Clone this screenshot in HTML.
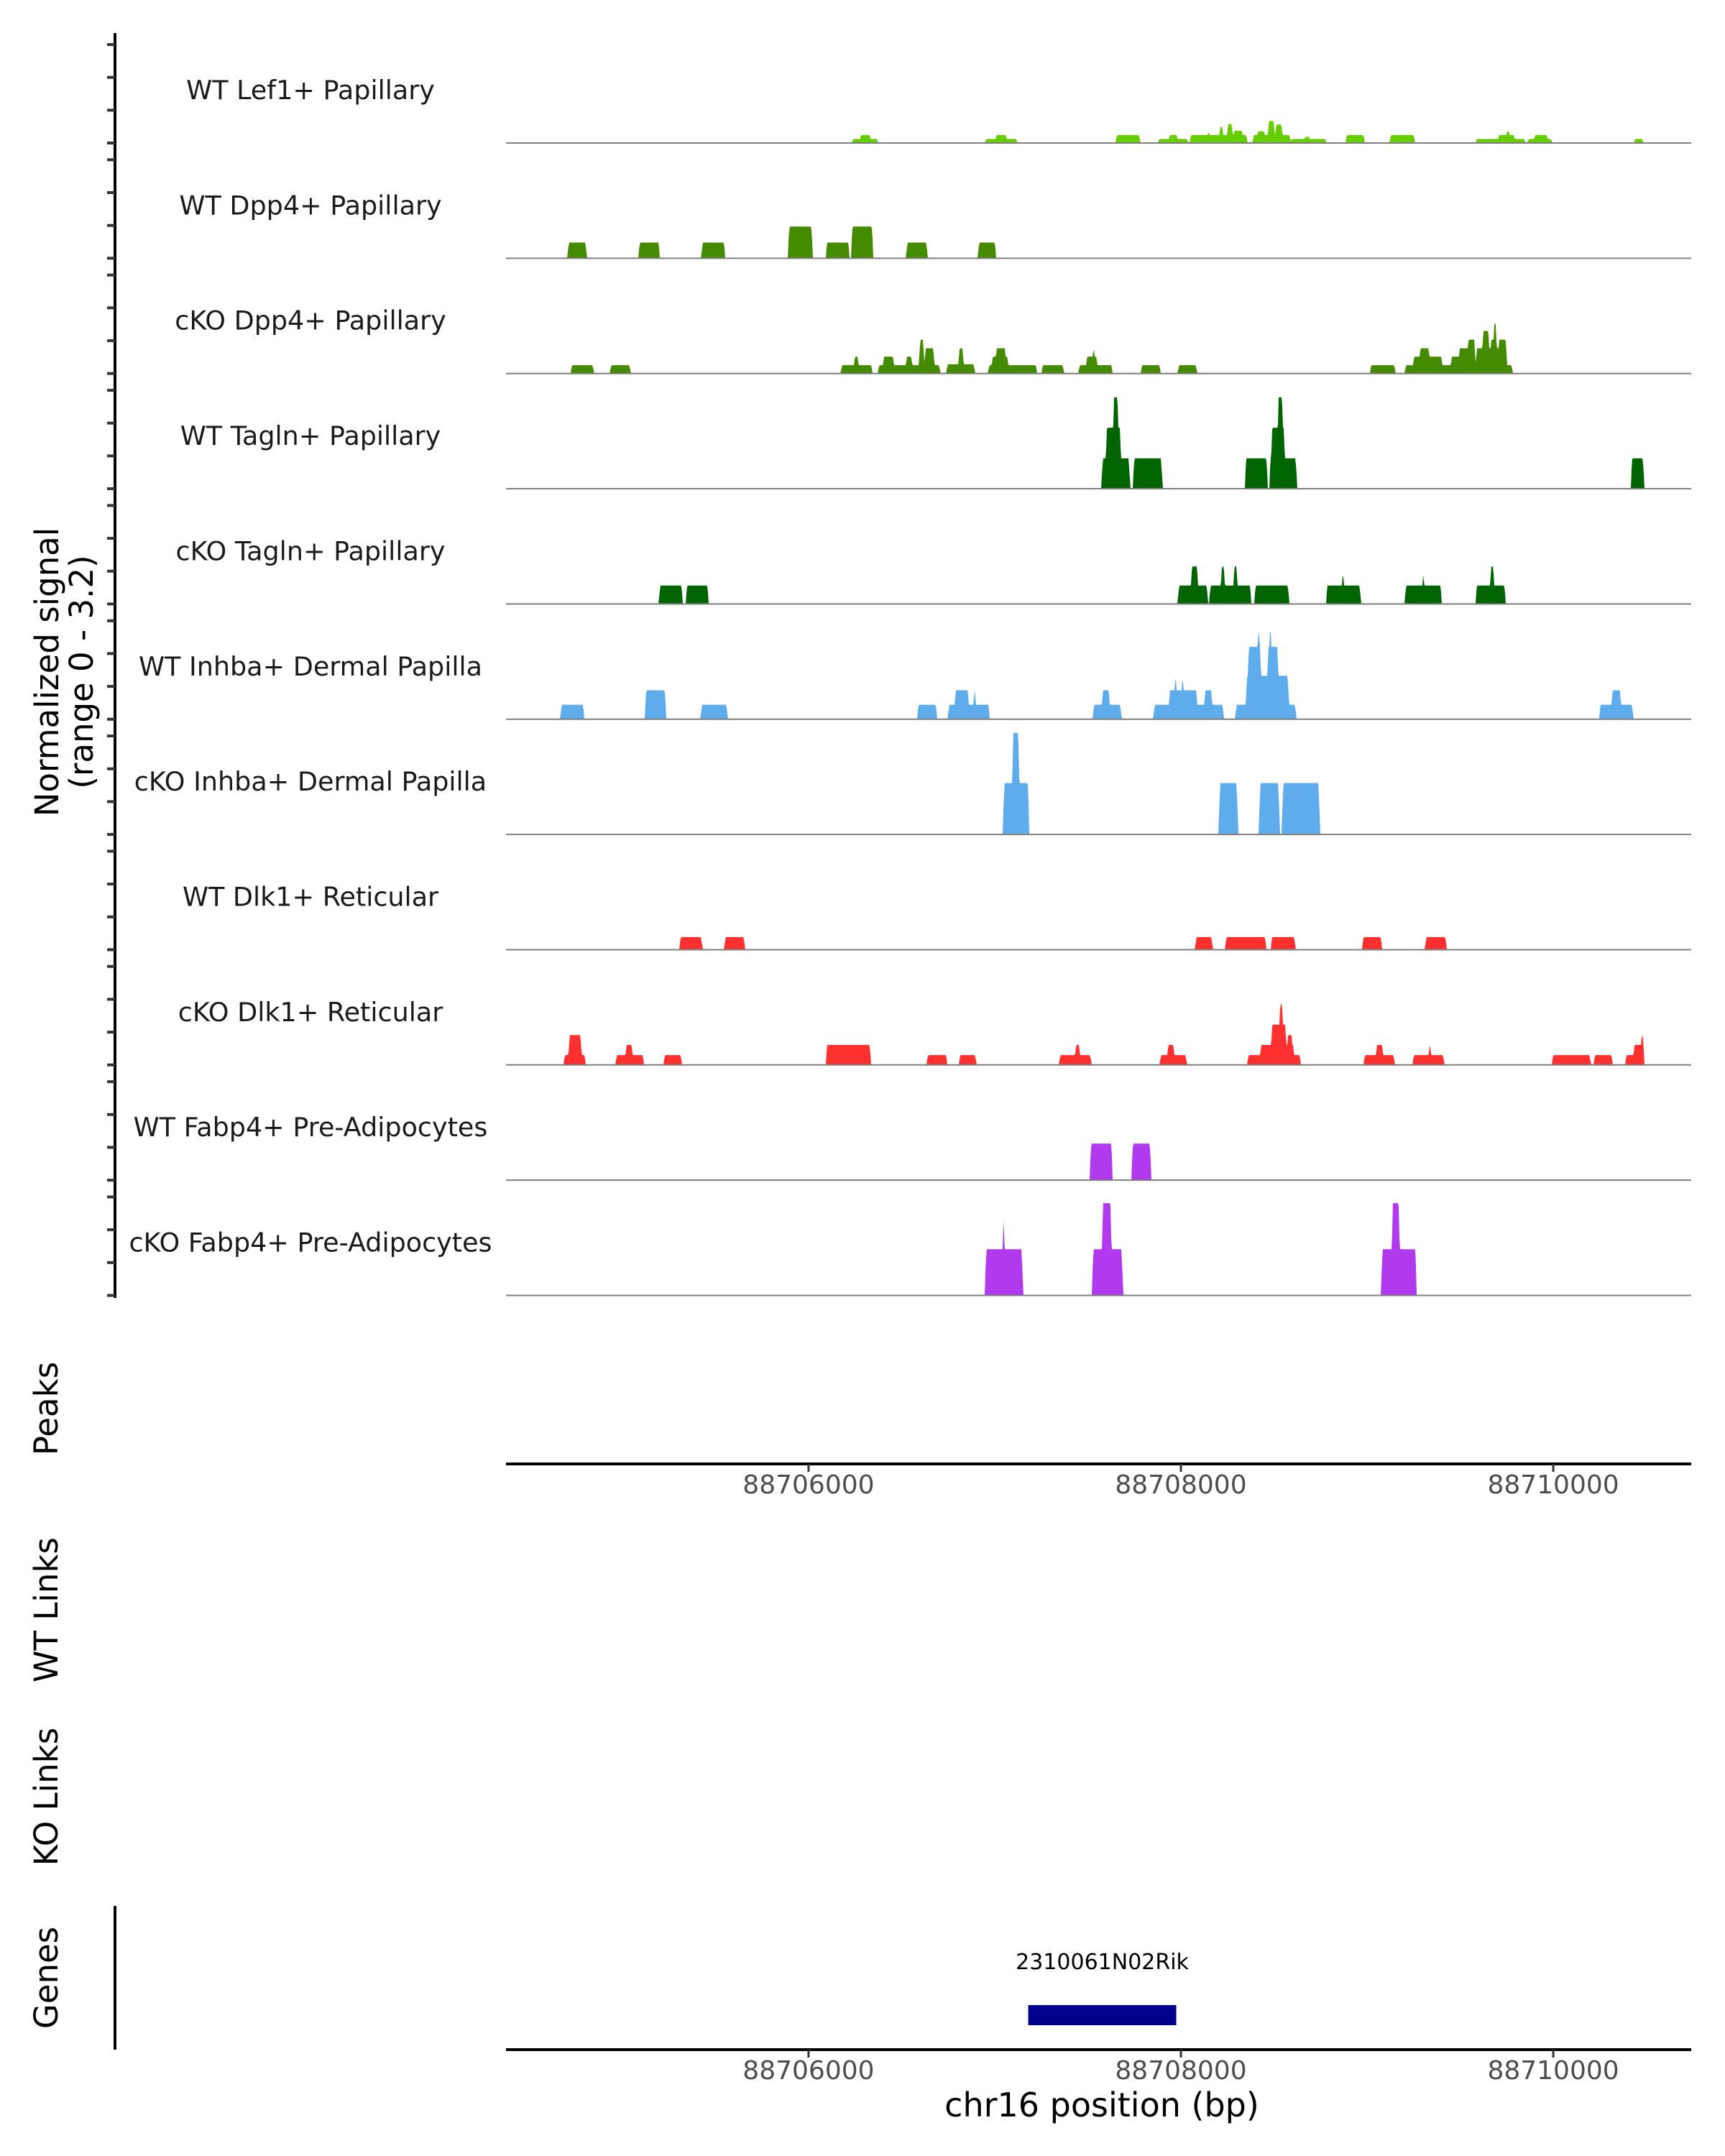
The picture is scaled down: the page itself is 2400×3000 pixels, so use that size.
<!DOCTYPE html>
<html><head><meta charset="utf-8">
<style>
html,body{margin:0;padding:0;background:#fff;}
svg{display:block;font-family:"DejaVu Sans","Liberation Sans",sans-serif;}
</style></head>
<body>
<svg id="chart" width="2400" height="3000" viewBox="0 0 2400 3000" xmlns="http://www.w3.org/2000/svg">
<g id="axes"></g>
<g id="tracks"></g>
<text transform="translate(81,935) rotate(-90)" text-anchor="middle" font-size="45" fill="#000">Normalized signal</text>
<text transform="translate(129,935) rotate(-90)" text-anchor="middle" font-size="45" fill="#000">(range 0 - 3.2)</text>
<text transform="translate(80,1960) rotate(-90)" text-anchor="middle" font-size="45" fill="#000">Peaks</text>
<text transform="translate(80,2240) rotate(-90)" text-anchor="middle" font-size="45" fill="#000">WT Links</text>
<text transform="translate(80,2500) rotate(-90)" text-anchor="middle" font-size="45" fill="#000">KO Links</text>
<text transform="translate(80,2752) rotate(-90)" text-anchor="middle" font-size="45" fill="#000">Genes</text>
<text x="1533" y="2945" text-anchor="middle" font-size="46" fill="#000">chr16 position (bp)</text>
</svg>
<script>
const regionStart = 88704375, regionEnd = 88710741;
const xTicks = [88706000, 88708000, 88710000];
const xTickLabels = ["88706000", "88708000", "88710000"];
const trackNames = ["WT Lef1+ Papillary","WT Dpp4+ Papillary","cKO Dpp4+ Papillary","WT Tagln+ Papillary","cKO Tagln+ Papillary","WT Inhba+ Dermal Papilla","cKO Inhba+ Dermal Papilla","WT Dlk1+ Reticular","cKO Dlk1+ Reticular","WT Fabp4+ Pre-Adipocytes","cKO Fabp4+ Pre-Adipocytes"];
const trackColors = ["#66CD00","#458B00","#458B00","#006400","#006400","#5EACEC","#5EACEC","#FF3030","#FF3030","#B23AEE","#B23AEE"];
const yMax = 3.2;
// blocks: [startOffsetBp, endOffsetBp, value] offsets from 88700000
const sigLef1 = [[6245,6385,.13],[6287,6347,.26],[6960,7133,.13],[7015,7078,.26],[7662,7793,.26],[7890,8051,.13],[7946,7996,.26],[8060,8369,.26],[8149,8170,.33],[8216,8242,.52],[8259,8292,.62],[8292,8347,.4],[8398,8601,.26],[8419,8466,.38],[8478,8517,.72],[8517,8559,.6],[8601,8792,.13],[8673,8707,.2],[8897,8999,.26],[9134,9269,.26],[9595,9862,.13],[9714,9807,.26],[9756,9781,.38],[9874,10005,.13],[9908,9984,.26],[10446,10496,.13]];
const sigWtDpp4 = [[4718,4820,.51],[5099,5213,.51],[5437,5564,.51],[5902,6034,1.03],[6105,6232,.51],[6241,6359,1.03],[6537,6651,.51],[6922,7019,.51]];
const sigKoDpp4 = [[4735,4858,.27],[4946,5056,.27],[6186,6355,.27],[6254,6283,.55],[6385,6719,.27],[6410,6473,.55],[6533,6571,.55],[6605,6634,1.1],[6634,6689,.82],[6753,6905,.3],[6816,6846,.82],[6977,7239,.27],[6994,7087,.55],[7015,7074,.82],[7264,7383,.27],[7463,7645,.27],[7501,7565,.55],[7535,7552,.82],[7797,7903,.27],[7996,8098,.27],[9028,9164,.27],[9215,9794,.27],[9257,9418,.55],[9291,9350,.82],[9460,9595,.55],[9502,9595,.82],[9549,9595,1.1],[9595,9743,.82],[9629,9671,1.38],[9671,9714,1.1],[9688,9710,1.65],[9714,9764,1.1]];
const sigWtTagln = [[7586,7738,.99],[7607,7692,1.98],[7645,7679,2.97],[7755,7912,.99],[8356,8478,.99],[8487,8635,.99],[8495,8572,1.98],[8529,8563,2.97],[10429,10500,.99]];
const sigKoTagln = [[5209,5336,.6],[5353,5475,.6],[7996,8157,.6],[8064,8106,1.22],[8165,8390,.6],[8225,8250,1.22],[8292,8318,1.22],[8407,8593,.6],[8792,8978,.6],[8876,8889,1.22],[9215,9413,.6],[9308,9320,1.22],[9595,9756,.6],[9671,9697,1.22]];
const sigWtInhba = [[4680,4807,.47],[5133,5247,.94],[5433,5577,.47],[6596,6702,.47],[6761,6985,.47],[6795,6875,.94],[6896,6913,.94],[7539,7692,.47],[7586,7632,.94],[7865,8242,.47],[7946,8102,.94],[7975,7992,1.41],[8013,8030,1.35],[8136,8182,.94],[8305,8631,.47],[8360,8593,1.41],[8369,8445,2.35],[8419,8440,2.82],[8474,8538,2.35],[8483,8504,2.82],[10259,10441,.47],[10323,10378,.94]];
const sigKoInhba = [[7057,7197,1.67],[7104,7146,3.3],[8216,8318,1.67],[8432,8542,1.67],[8555,8758,1.67]];
const sigWtDlk1 = [[5319,5441,.41],[5560,5670,.41],[8089,8182,.41],[8250,8470,.41],[8495,8627,.41],[8986,9092,.41],[9324,9439,.41]];
const sigKoDlk1 = [[4697,4815,.32],[4722,4794,.97],[4976,5128,.32],[5027,5069,.65],[5234,5331,.32],[6105,6347,.65],[6647,6757,.32],[6820,6913,.32],[7358,7531,.32],[7442,7472,.65],[7899,8043,.32],[7937,7979,.65],[8369,8656,.32],[8436,8622,.65],[8495,8580,1.31],[8538,8563,1.98],[8580,8614,.97],[8994,9160,.32],[9058,9100,.65],[9257,9426,.32],[9341,9358,.65],[10005,10213,.32],[10230,10331,.32],[10399,10500,.32],[10441,10500,.65],[10480,10500,.97]];
const sigWtFabp4 = [[7523,7645,1.19],[7747,7852,1.19]];
const sigKoFabp4 = [[6960,7163,1.5],[7053,7066,3.0],[7535,7700,1.5],[7586,7641,3.0],[9088,9278,1.5],[9143,9189,3.0]];
const trackSignals = [sigLef1,sigWtDpp4,sigKoDpp4,sigWtTagln,sigKoTagln,sigWtInhba,sigKoInhba,sigWtDlk1,sigKoDlk1,sigWtFabp4,sigKoFabp4];
const geneName = "2310061N02Rik", geneStart = 88707180, geneEnd = 88707975;

const NS = "http://www.w3.org/2000/svg";
const X0 = 704, X1 = 2353;
const xScale = bp => X0 + (bp - regionStart) / (regionEnd - regionStart) * (X1 - X0);
const TOP0 = 199, STEP = 160.35, TH = 137;
const baseY = i => TOP0 + i * STEP;
const yScale = (i, v) => baseY(i) - v / yMax * TH;
function mk(tag, attrs, parent) {
  const e = document.createElementNS(NS, tag);
  for (const k in attrs) e.setAttribute(k, attrs[k]);
  parent.appendChild(e); return e;
}
const axes = document.getElementById('axes');
const tracksG = document.getElementById('tracks');

const yLine = mk('line', {x1:160, y1:46, x2:160, y2:1806, stroke:'#000', 'stroke-width':4}, axes);



trackNames.forEach((name, i) => {
  const g = mk('g', {}, tracksG);
  
  
  for (let k = 0; k < 4; k++) {
    const t = mk('line', {x1:149, x2:160, y1:yScale(i, k * yMax / 3), y2:yScale(i, k * yMax / 3), stroke:'#333', 'stroke-width':4}, g);
    
    
  }
  const lbl = mk('text', {x:432, y:baseY(i) - 61, 'text-anchor':'middle', 'font-size':36.5, fill:'#1a1a1a'}, g);
  lbl.textContent = name;
  
  
  const blocks = trackSignals[i];
  const pts = [];
  for (let px = X0; px <= X1; px += 1) {
    let v = 0;
    blocks.forEach(b => {
      const s = xScale(88700000 + b[0] - 12), e = xScale(88700000 + b[1] - 12);
      if (px >= s && px <= e) {
        const ramp = Math.min(1, (px - s + 1) / 3, (e - px + 1) / 3);
        v = Math.max(v, b[2] * ramp);
      }
    });
    pts.push(px + ',' + yScale(i, v).toFixed(1));
  }
  const poly = mk('polygon', {points: X0 + ',' + baseY(i) + ' ' + pts.join(' ') + ' ' + X1 + ',' + baseY(i), fill: trackColors[i]}, g);
  
  
  const bl = mk('line', {x1:X0, x2:X1, y1:baseY(i), y2:baseY(i), stroke:'#7f7f7f', 'stroke-width':2}, g);
  
  
});

function xAxis(y, nm) {
  const l = mk('line', {x1:X0, x2:X1, y1:y, y2:y, stroke:'#000', 'stroke-width':4}, axes);
  
  
  xTicks.forEach((t, k) => {
    const tk = mk('line', {x1:xScale(t), x2:xScale(t), y1:y, y2:y + 11, stroke:'#333', 'stroke-width':3}, axes);
    
    
    const tl = mk('text', {x:xScale(t), y:y + 41, 'text-anchor':'middle', 'font-size':36, fill:'#4d4d4d'}, axes);
    tl.textContent = xTickLabels[k];
    
    
  });
}
xAxis(2037, 'peaks-x-axis');
xAxis(2852, 'genes-x-axis');

const gLine = mk('line', {x1:160, y1:2652, x2:160, y2:2852, stroke:'#000', 'stroke-width':4}, axes);


const gene = mk('rect', {x:xScale(geneStart), y:2790, width:xScale(geneEnd) - xScale(geneStart), height:28, fill:'#00008B'}, axes);


const gl = mk('text', {x:(xScale(geneStart) + xScale(geneEnd)) / 2, y:2740, 'text-anchor':'middle', 'font-size':30, fill:'#000'}, axes);
gl.textContent = geneName;


</script>
</body></html>
